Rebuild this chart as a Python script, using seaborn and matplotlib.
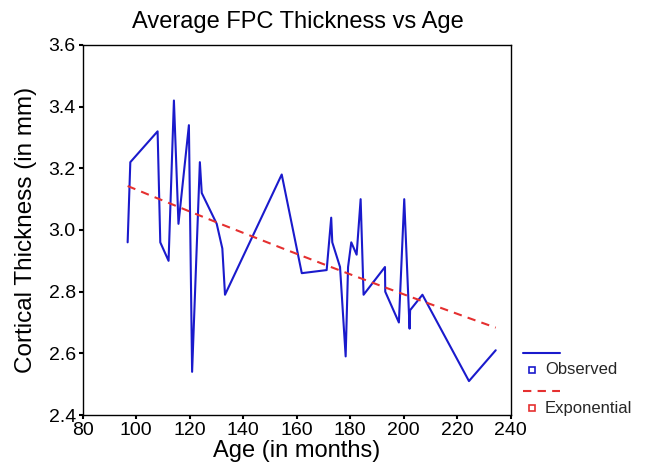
import numpy as np
import pandas as pd
import matplotlib
matplotlib.use("Agg")
import matplotlib.pyplot as plt
from matplotlib.lines import Line2D
import seaborn as sns

# Observed data (age in months, cortical thickness in mm)
age = [96.8, 97.8, 108.0, 109.0, 112.1, 114.1, 115.8, 119.7, 120.9, 123.8, 124.5,
       130.1, 132.2, 133.2, 154.4, 161.9, 171.2, 172.9, 173.3, 176.2, 178.3, 179.2,
       180.4, 182.4, 183.9, 185.0, 193.0, 193.1, 198.2, 200.2, 202.2, 202.4, 207.0,
       224.4, 234.4]
thickness = [2.96, 3.22, 3.32, 2.96, 2.90, 3.42, 3.02, 3.34, 2.54, 3.22, 3.12,
             3.02, 2.94, 2.79, 3.18, 2.86, 2.87, 3.04, 2.96, 2.88, 2.59, 2.88,
             2.96, 2.92, 3.10, 2.79, 2.88, 2.80, 2.70, 3.10, 2.68, 2.74, 2.79,
             2.51, 2.61]

title = "Average FPC Thickness vs Age"
xlabel = "Age (in months)"
ylabel = "Cortical Thickness (in mm)"
xticks = [80, 100, 120, 140, 160, 180, 200, 220, 240]
yticks = [2.4, 2.6, 2.8, 3.0, 3.2, 3.4, 3.6]
legend_labels = ["Observed", "Exponential"]

# Exponential fit y = a*exp(b*x) of the observed data
b, loga = np.polyfit(np.array(age), np.log(np.array(thickness)), 1)
fit = np.exp(loga) * np.exp(b * np.array(age))

df = pd.DataFrame({"age": age, "thickness": thickness, "fit": fit})

sns.set_theme(style="white")
plt.rcParams['font.family'] = ['Liberation Sans', 'DejaVu Sans']

fig = plt.figure(figsize=(6.49, 4.76), dpi=100)
ax = fig.add_axes([82.7/649, 1-415/476, (510.7-82.7)/649, (415-45)/476])

blue = "#1a1acc"
red = "#e53030"
sns.lineplot(data=df, x="age", y="thickness", ax=ax, sort=False, color=blue,
             linewidth=1.5, estimator=None)
sns.lineplot(data=df, x="age", y="fit", ax=ax, sort=False, color=red,
             linewidth=1.5, linestyle=(0, (4, 3)), estimator=None)

ax.set_xlim(80, 240)
ax.set_ylim(2.4, 3.6)
ax.set_xticks(xticks)
ax.set_yticks(yticks)
ax.set_xticklabels([str(t) for t in xticks], fontsize=14)
ax.set_yticklabels([f"{t:.1f}" for t in yticks], fontsize=14)
ax.tick_params(axis="both", direction="out", length=3, width=1.5, color="black",
               pad=2, labelcolor="black")
ax.tick_params(axis="both", bottom=True, left=True)
for s in ax.spines.values():
    s.set_color("black")
    s.set_linewidth(1.0)
ax.set_xlabel(xlabel, fontsize=17, labelpad=1, color="black")
ax.set_ylabel(ylabel, fontsize=17.5, labelpad=8, color="black")
fig.text(298/649, 1-22/476, title, fontsize=17, ha="center", va="center", color="black")

# Legend (SPSS-style) outside on the right
def fx(px):
    return px/649
def fy(py):
    return 1-py/476
fig.add_artist(Line2D([fx(523), fx(560)], [fy(353), fy(353)], color=blue, lw=1.5))
fig.add_artist(Line2D([fx(532)], [fy(370)], marker="s", markersize=4.5,
                      markerfacecolor="white", markeredgecolor=blue, markeredgewidth=1.2, lw=0))
fig.text(fx(545), fy(370), legend_labels[0], fontsize=12, va="center", ha="left")
fig.add_artist(Line2D([fx(523), fx(560)], [fy(391), fy(391)], color=red, lw=1.5,
                      linestyle=(0, (4, 3))))
fig.add_artist(Line2D([fx(532)], [fy(408)], marker="s", markersize=4.5,
                      markerfacecolor="white", markeredgecolor=red, markeredgewidth=1.2, lw=0))
fig.text(fx(545), fy(408), legend_labels[1], fontsize=12, va="center", ha="left")

fig.savefig("out.png", dpi=100)
